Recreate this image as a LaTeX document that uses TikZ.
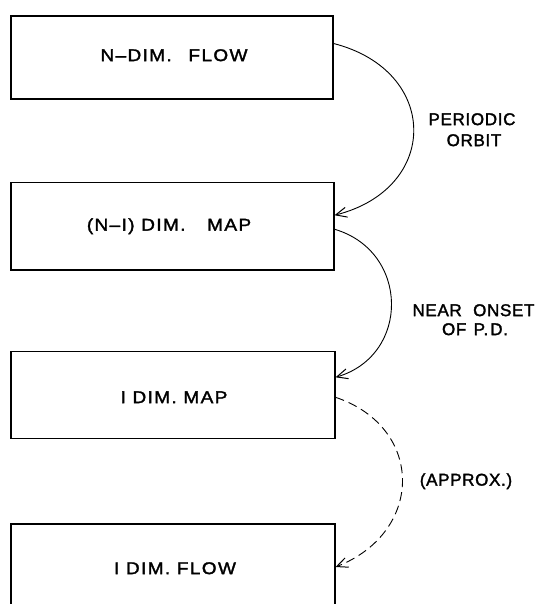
\documentclass[tikz,border=0pt]{standalone}
\usepackage{fontspec}
\newfontfamily\boxfont{Liberation Sans}[LetterSpace=8,FakeBold=1.8,FakeStretch=1.12]
\newfontfamily\sidefont{Liberation Sans}[LetterSpace=4,FakeBold=1.8]
\usetikzlibrary{arrows.meta}
\tikzset{
  stagebox/.style={draw, line width=1.1pt, rectangle, inner sep=0pt},
  lettering/.style={font=\boxfont\fontsize{17}{20}\selectfont, inner sep=0pt,
    text height=12.2pt, text depth=0pt},
  sidelettering/.style={lettering, font=\sidefont\fontsize{17}{20}\selectfont},
  link/.style={line width=0.9pt, -{Straight Barb[length=11pt,width=10pt,line width=1pt]}},
  approxlink/.style={link, dash pattern=on 9pt off 5pt},
}
\begin{document}
\begin{tikzpicture}[x=1pt,y=-1pt]
  \clip (0,0) rectangle (538,604);
  \fill[white] (0,0) rectangle (538,604);
  % boxes
  \node[stagebox, minimum width=322pt, minimum height=83pt] (b1) at (172,57.5) {};
  \node[stagebox, minimum width=323pt, minimum height=87.5pt] (b2) at (172.5,226.25) {};
  \node[stagebox, minimum width=324pt, minimum height=87pt] (b3) at (173,395) {};
  \node[stagebox, minimum width=324pt, minimum height=100pt] (b4) at (173,574) {};
  % box texts
  \node[lettering] (t1) at (174,55) {N–DIM.\hspace{10pt} FLOW};
  \node[lettering] (t2) at (169,224.5) {(N–I) DIM.\hspace{15pt} MAP};
  \node[lettering] (t3) at (174,397) {I DIM. MAP};
  \node[lettering] (t4) at (175,568) {I DIM. FLOW};
  % side labels
  \node[sidelettering] (l1a) at (472,119) {PERIODIC};
  \node[sidelettering] (l1b) at (474,140) {ORBIT};
  \node[sidelettering] (l2a) at (473.5,310) {NEAR\hspace{6pt} ONSET};
  \node[sidelettering] (l2b) at (475,329) {OF\hspace{2pt} P.\hspace{2pt}D.};
  \node[sidelettering] (l3) at (466,479.5) {(APPROX.)};
  % connectors
  \draw[link] ([yshift=14pt]b1.east) .. controls +(106,27) and +(106,-27) .. ([yshift=11pt]b2.east);
  \draw[link] ([yshift=-3pt]b2.east) .. controls +(75,22) and +(75,-22) .. ([yshift=17.7pt]b3.east);
  \draw[approxlink] ([yshift=-2.3pt]b3.east) .. controls +(89,30) and +(89,-35) .. ([yshift=7pt]b4.east);
\end{tikzpicture}
\end{document}
